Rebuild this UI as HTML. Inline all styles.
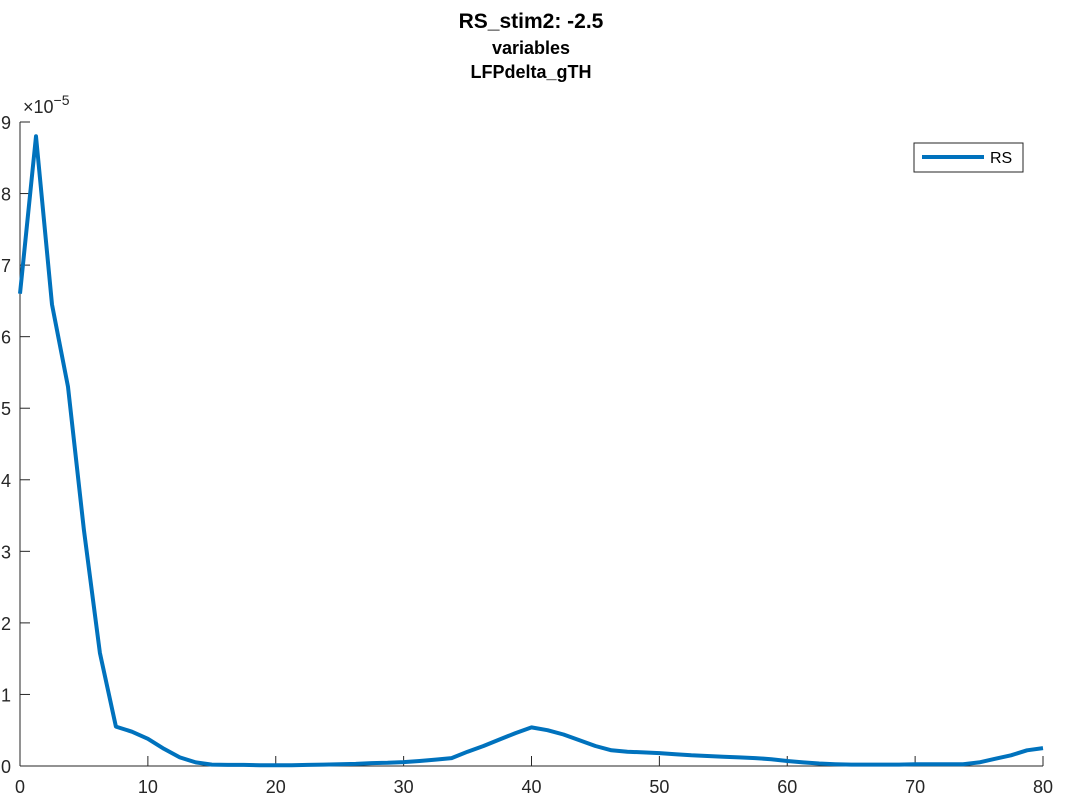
<!DOCTYPE html>
<html><head><meta charset="utf-8"><style>
html,body{margin:0;padding:0;background:#fff;}
svg{display:block;font-family:"Liberation Sans",sans-serif;}
</style></head><body>
<svg id="chart" width="1067" height="800">
<text x="531" y="28" text-anchor="middle" font-size="21" font-weight="bold" fill="#000">RS_stim2: -2.5</text>
<text x="531" y="54" text-anchor="middle" font-size="18" font-weight="bold" fill="#000">variables</text>
<text x="531" y="78" text-anchor="middle" font-size="18" font-weight="bold" fill="#000">LFPdelta_gTH</text>
<g id="axes"></g>
<g id="plot"></g>
<g>
<rect x="914" y="143" width="109" height="29" fill="#fff" stroke="#262626" stroke-width="1"/>
<line x1="922" y1="157" x2="984" y2="157" stroke="#0072BD" stroke-width="4"/>
<text x="990" y="163" font-size="16" fill="#000">RS</text>
</g>
</svg>
<script>
const xValues = [];
for (let i = 0; i <= 64; i++) xValues.push(i * 1.25);
const rsValues = [6.6,8.8,6.45,5.3,3.3,1.58,0.55,0.48,0.38,0.24,0.12,0.05,0.02,0.015,0.015,0.01,0.01,0.01,0.015,0.02,0.025,0.03,0.04,0.045,0.055,0.07,0.09,0.11,0.2,0.28,0.37,0.46,0.54,0.5,0.44,0.36,0.28,0.22,0.2,0.19,0.18,0.165,0.15,0.14,0.13,0.12,0.11,0.095,0.07,0.05,0.035,0.025,0.02,0.02,0.02,0.02,0.025,0.025,0.025,0.025,0.05,0.1,0.15,0.22,0.25];
const xTicks = [0,10,20,30,40,50,60,70,80];
const yTicks = [0,1,2,3,4,5,6,7,8,9];

const L=20,R=1043,T=122,B=766;
const sx=v=>L+(v-0)/(80-0)*(R-L);
const sy=v=>B-(v-0)/(9-0)*(B-T);
const NS="http://www.w3.org/2000/svg";
const axes=document.getElementById('axes');
const plot=document.getElementById('plot');
function mk(tag,attrs,parent){const e=document.createElementNS(NS,tag);for(const k in attrs)e.setAttribute(k,attrs[k]);parent.appendChild(e);return e;}

const xa=mk('line',{x1:L,y1:B,x2:R,y2:B,stroke:'#262626','stroke-width':1},axes);


const ya=mk('line',{x1:L,y1:T,x2:L,y2:B,stroke:'#262626','stroke-width':1},axes);



xTicks.forEach(t=>{
  const x=sx(t);
  const tk=mk('line',{x1:x,y1:B,x2:x,y2:B-10,stroke:'#262626','stroke-width':1},axes);
  
  
  const lb=mk('text',{x:x,y:B+27,'text-anchor':'middle','font-size':18,fill:'#262626'},axes);
  lb.textContent=t;
  
  
});
yTicks.forEach(t=>{
  const y=sy(t);
  const tk=mk('line',{x1:L,y1:y,x2:L+10,y2:y,stroke:'#262626','stroke-width':1},axes);
  
  
  const lb=mk('text',{x:L-9,y:y+7,'text-anchor':'end','font-size':18,fill:'#262626'},axes);
  lb.textContent=t;
  
  
});
const ex=mk('text',{x:23,y:113,'font-size':18,fill:'#262626'},axes);
ex.innerHTML='×10<tspan dy="-8" font-size="14">−5</tspan>';



const pts=xValues.map((x,i)=>sx(x).toFixed(1)+','+sy(rsValues[i]).toFixed(1)).join(' ');
const pl=mk('polyline',{points:pts,fill:'none',stroke:'#0072BD','stroke-width':4,'stroke-linejoin':'round'},plot);


</script>
</body></html>
